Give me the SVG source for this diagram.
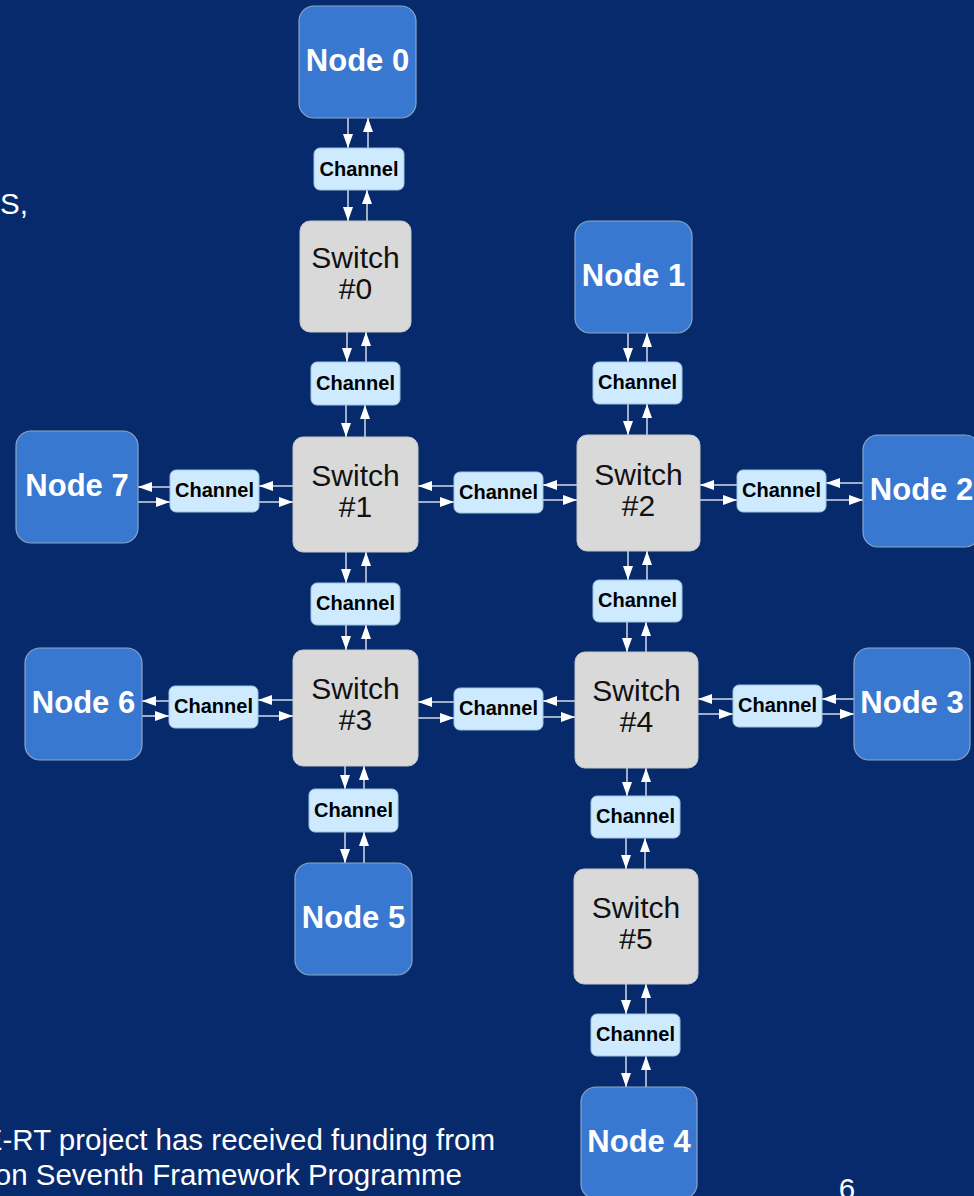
<svg xmlns="http://www.w3.org/2000/svg" width="974" height="1196" viewBox="0 0 974 1196">
<defs>
<marker id="ah" viewBox="0 0 14 10" markerWidth="14" markerHeight="10" refX="14" refY="5" orient="auto" markerUnits="userSpaceOnUse">
<path d="M0,0 L14,5 L0,10 z" fill="#ffffff"/>
</marker>
<style>
.node rect{fill:#3878d0;stroke:#8da5c6;stroke-width:1.2}
.node text{font-family:"Liberation Sans",Arial,Helvetica,sans-serif;font-weight:bold;font-size:31px;fill:#ffffff;text-anchor:middle}
.sw rect{fill:#d9d9d9;stroke:#c8c8c8;stroke-width:1}
.sw text{font-family:"Liberation Sans",Arial,Helvetica,sans-serif;font-size:30px;fill:#111111;text-anchor:middle}
.ch rect{fill:#cdeafe;stroke:#9fc3e3;stroke-width:1}
.ch text{font-family:"Liberation Sans",Arial,Helvetica,sans-serif;font-weight:bold;font-size:20px;fill:#000000;text-anchor:middle}
.bg{font-family:"Liberation Sans",Arial,Helvetica,sans-serif;font-size:29.5px;fill:#ffffff}
#connectors line{stroke:#d4dbe8;stroke-width:1.5;marker-end:url(#ah)}
</style>
</defs>
<rect x="0" y="0" width="974" height="1196" fill="#062a6b"/>
<text class="bg" x="0" y="214">S,</text>
<text class="bg" x="495" y="1150" text-anchor="end">E-RT project has received funding from</text>
<text class="bg" x="462" y="1185" text-anchor="end">on Seventh Framework Programme</text>
<text class="bg" x="847" y="1199" text-anchor="middle">6</text>

<g id="connectors">
<line x1="348" y1="118" x2="348" y2="148"/><line x1="368" y1="148" x2="368" y2="118"/>
<line x1="348" y1="190" x2="348" y2="221"/><line x1="367" y1="221" x2="367" y2="190"/>
<line x1="347" y1="332" x2="347" y2="362"/><line x1="366" y1="362" x2="366" y2="332"/>
<line x1="346" y1="405" x2="346" y2="437"/><line x1="365" y1="437" x2="365" y2="405"/>
<line x1="346" y1="552" x2="346" y2="583"/><line x1="366" y1="583" x2="366" y2="552"/>
<line x1="346" y1="625" x2="346" y2="650"/><line x1="366" y1="650" x2="366" y2="625"/>
<line x1="345" y1="766" x2="345" y2="789"/><line x1="364" y1="789" x2="364" y2="766"/>
<line x1="345" y1="832" x2="345" y2="863"/><line x1="364" y1="863" x2="364" y2="832"/>
<line x1="628" y1="333" x2="628" y2="362"/><line x1="647" y1="362" x2="647" y2="333"/>
<line x1="628" y1="404" x2="628" y2="435"/><line x1="647" y1="435" x2="647" y2="404"/>
<line x1="628" y1="551" x2="628" y2="580"/><line x1="647" y1="580" x2="647" y2="551"/>
<line x1="627" y1="622" x2="627" y2="652"/><line x1="646" y1="652" x2="646" y2="622"/>
<line x1="627" y1="768" x2="627" y2="796"/><line x1="646" y1="796" x2="646" y2="768"/>
<line x1="626" y1="838" x2="626" y2="869"/><line x1="645" y1="869" x2="645" y2="838"/>
<line x1="626" y1="984" x2="626" y2="1014"/><line x1="646" y1="1014" x2="646" y2="984"/>
<line x1="626" y1="1056" x2="626" y2="1087"/><line x1="646" y1="1087" x2="646" y2="1056"/>
<line x1="170" y1="487" x2="138" y2="487"/><line x1="138" y1="502" x2="170" y2="502"/>
<line x1="293" y1="486" x2="259" y2="486"/><line x1="259" y1="502" x2="293" y2="502"/>
<line x1="454" y1="486" x2="418" y2="486"/><line x1="418" y1="502" x2="454" y2="502"/>
<line x1="577" y1="485" x2="543" y2="485"/><line x1="543" y1="500" x2="577" y2="500"/>
<line x1="737" y1="485" x2="700" y2="485"/><line x1="700" y1="500" x2="737" y2="500"/>
<line x1="863" y1="483" x2="826" y2="483"/><line x1="826" y1="500" x2="863" y2="500"/>
<line x1="169" y1="701" x2="142" y2="701"/><line x1="142" y1="716" x2="169" y2="716"/>
<line x1="293" y1="700" x2="258" y2="700"/><line x1="258" y1="716" x2="293" y2="716"/>
<line x1="454" y1="702" x2="418" y2="702"/><line x1="418" y1="718" x2="454" y2="718"/>
<line x1="575" y1="701" x2="543" y2="701"/><line x1="543" y1="717" x2="575" y2="717"/>
<line x1="733" y1="699" x2="698" y2="699"/><line x1="698" y1="714" x2="733" y2="714"/>
<line x1="854" y1="699" x2="822" y2="699"/><line x1="822" y1="714" x2="854" y2="714"/>
</g>

<g id="node0" class="node"><rect x="299" y="6" width="117" height="112" rx="15"/><text x="357.5" y="71">Node 0</text></g>
<g id="node1" class="node"><rect x="575" y="221" width="117" height="112" rx="15"/><text x="633.5" y="286">Node 1</text></g>
<g id="node2" class="node"><rect x="863" y="435" width="117" height="112" rx="15"/><text x="921.5" y="500">Node 2</text></g>
<g id="node3" class="node"><rect x="854" y="648" width="116" height="112" rx="15"/><text x="912" y="713">Node 3</text></g>
<g id="node4" class="node"><rect x="581" y="1087" width="116" height="112" rx="15"/><text x="639" y="1152">Node 4</text></g>
<g id="node5" class="node"><rect x="295" y="863" width="117" height="112" rx="15"/><text x="353.5" y="928">Node 5</text></g>
<g id="node6" class="node"><rect x="25" y="648" width="117" height="112" rx="15"/><text x="83.5" y="713">Node 6</text></g>
<g id="node7" class="node"><rect x="16" y="431" width="122" height="112" rx="15"/><text x="77" y="496">Node 7</text></g>

<g id="switch0" class="sw"><rect x="300" y="221" width="111" height="111" rx="10"/><text x="355.5" y="268">Switch</text><text x="355.5" y="299">#0</text></g>
<g id="switch1" class="sw"><rect x="293" y="437" width="125" height="115" rx="10"/><text x="355.5" y="486">Switch</text><text x="355.5" y="517">#1</text></g>
<g id="switch2" class="sw"><rect x="577" y="435" width="123" height="116" rx="10"/><text x="638.5" y="485">Switch</text><text x="638.5" y="516">#2</text></g>
<g id="switch3" class="sw"><rect x="293" y="650" width="125" height="116" rx="10"/><text x="355.5" y="699">Switch</text><text x="355.5" y="730">#3</text></g>
<g id="switch4" class="sw"><rect x="575" y="652" width="123" height="116" rx="10"/><text x="636.5" y="701">Switch</text><text x="636.5" y="732">#4</text></g>
<g id="switch5" class="sw"><rect x="574" y="869" width="124" height="115" rx="10"/><text x="636" y="918">Switch</text><text x="636" y="949">#5</text></g>

<g id="ch0" class="ch"><rect x="314" y="148" width="90" height="42" rx="6"/><text x="359" y="176">Channel</text></g>
<g id="ch1" class="ch"><rect x="311" y="362" width="89" height="43" rx="6"/><text x="355.5" y="390">Channel</text></g>
<g id="ch2" class="ch"><rect x="593" y="362" width="89" height="42" rx="6"/><text x="637.5" y="389">Channel</text></g>
<g id="ch3" class="ch"><rect x="170" y="470" width="89" height="42" rx="6"/><text x="214.5" y="497">Channel</text></g>
<g id="ch4" class="ch"><rect x="454" y="472" width="89" height="41" rx="6"/><text x="498.5" y="499">Channel</text></g>
<g id="ch5" class="ch"><rect x="737" y="470" width="89" height="42" rx="6"/><text x="781.5" y="497">Channel</text></g>
<g id="ch6" class="ch"><rect x="311" y="583" width="89" height="42" rx="6"/><text x="355.5" y="610">Channel</text></g>
<g id="ch7" class="ch"><rect x="593" y="580" width="89" height="42" rx="6"/><text x="637.5" y="607">Channel</text></g>
<g id="ch8" class="ch"><rect x="169" y="686" width="89" height="42" rx="6"/><text x="213.5" y="713">Channel</text></g>
<g id="ch9" class="ch"><rect x="454" y="688" width="89" height="42" rx="6"/><text x="498.5" y="715">Channel</text></g>
<g id="ch10" class="ch"><rect x="733" y="685" width="89" height="42" rx="6"/><text x="777.5" y="712">Channel</text></g>
<g id="ch11" class="ch"><rect x="309" y="789" width="89" height="43" rx="6"/><text x="353.5" y="817">Channel</text></g>
<g id="ch12" class="ch"><rect x="591" y="796" width="89" height="42" rx="6"/><text x="635.5" y="823">Channel</text></g>
<g id="ch13" class="ch"><rect x="591" y="1014" width="89" height="42" rx="6"/><text x="635.5" y="1041">Channel</text></g>
</svg>
